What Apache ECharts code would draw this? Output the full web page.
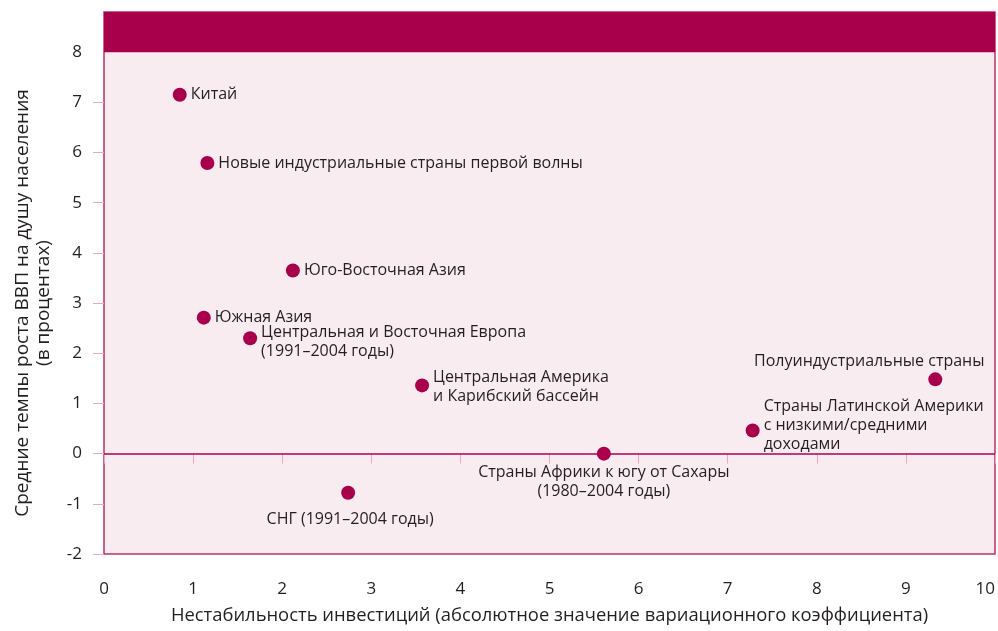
<!DOCTYPE html>
<html><head><meta charset="utf-8">
<script src="https://cdn.jsdelivr.net/npm/echarts@6/dist/echarts.min.js"></script>
<style>html,body{margin:0;padding:0;background:#fff}#c{width:998px;height:631px}</style>
</head><body><div id="c"></div>
<script>
const names = [
  'Китай',
  'Новые индустриальные страны первой волны',
  'Юго-Восточная Азия',
  'Южная Азия',
  'Центральная и Восточная Европа\n(1991–2004 годы)',
  'Центральная Америка\nи Карибский бассейн',
  'СНГ (1991–2004 годы)',
  'Страны Африки к югу от Сахары\n(1980–2004 годы)',
  'Страны Латинской Америки\nс низкими/средними\nдоходами',
  'Полуиндустриальные страны'
];
const xValues = [0.85, 1.16, 2.12, 1.12, 1.64, 3.57, 2.74, 5.61, 7.28, 9.33];
const yValues = [7.15, 5.79, 3.65, 2.71, 2.30, 1.36, -0.78, 0.0, 0.46, 1.48];
const xTicks = [0,1,2,3,4,5,6,7,8,9,10];
const yTicks = [-2,-1,0,1,2,3,4,5,6,7,8];
const xTitle = 'Нестабильность инвестиций (абсолютное значение вариационного коэффициента)';
const yTitle = 'Средние темпы роста ВВП на душу населения\n(в процентах)';

const FONT = 'Open Sans';
const labelLayout = [
  {position:'right', distance:4},
  {position:'right', distance:4},
  {position:'right', distance:4},
  {position:'right', distance:4},
  {position:'right', distance:4, offset:[0,4], align:'left'},
  {position:'right', distance:4, offset:[0,2], align:'left'},
  {position:'inside', offset:[2,27], align:'center'},
  {position:'inside', offset:[0,28], align:'center'},
  {position:'right', distance:4, offset:[0,-5], align:'left'},
  {position:'inside', offset:[-66,-18], align:'center'}
];

const data = names.map((n,i)=>({
  name:n, value:[xValues[i], yValues[i]],
  label:Object.assign({show:true, formatter:n, color:'#231f20', fontFamily:FONT, fontSize:16, lineHeight:19}, labelLayout[i])
}));

const chart = echarts.init(document.getElementById('c'), null, {renderer:'canvas'});
chart.setOption({
  animation:false,
  grid:{left:104, right:3, top:12, bottom:77, outerBoundsMode:'none', containLabel:false,
    show:true, backgroundColor:'#f8ecf1', borderColor:'#c0306a', borderWidth:1.5},
  xAxis:{type:'value', min:xTicks[0], max:xTicks[xTicks.length-1], interval:1,
    axisLine:{show:false}, splitLine:{show:false},
    axisTick:{show:true, inside:false, length:10, lineStyle:{color:'#eaa7c2'}},
    axisLabel:{color:'#231f20', fontFamily:FONT, fontSize:17, margin:27, alignMaxLabel:'right'},
    name:xTitle, nameLocation:'middle', nameGap:53, nameTextStyle:{color:'#231f20', fontFamily:FONT, fontSize:18.4}
  },
  yAxis:{type:'value', min:yTicks[0], max:8.8, interval:1,
    axisLine:{show:false}, splitLine:{show:false},
    axisTick:{show:true, length:11, customValues:yTicks.filter(v=>v<8), lineStyle:{color:'#eaa7c2'}},
    axisLabel:{color:'#231f20', fontFamily:FONT, fontSize:17, margin:22, customValues:yTicks},
    name:yTitle, nameLocation:'middle', nameGap:50, nameRotate:90,
    nameTextStyle:{color:'#231f20', fontFamily:FONT, fontSize:19, lineHeight:21, align:'center', padding:[0,40,0,0]}
  },
  series:[{
    type:'scatter', symbolSize:14, itemStyle:{color:'#a8004a', opacity:1},
    data:data,
    markArea:{silent:true, itemStyle:{color:'#a8004a', opacity:1},
      data:[[{yAxis:8},{yAxis:8.8}]]},
    markLine:{silent:true, symbol:'none', label:{show:false},
      lineStyle:{color:'#b0004f', width:1.5, type:'solid'},
      data:[{yAxis:0}]}
  }]
});
</script></body></html>
